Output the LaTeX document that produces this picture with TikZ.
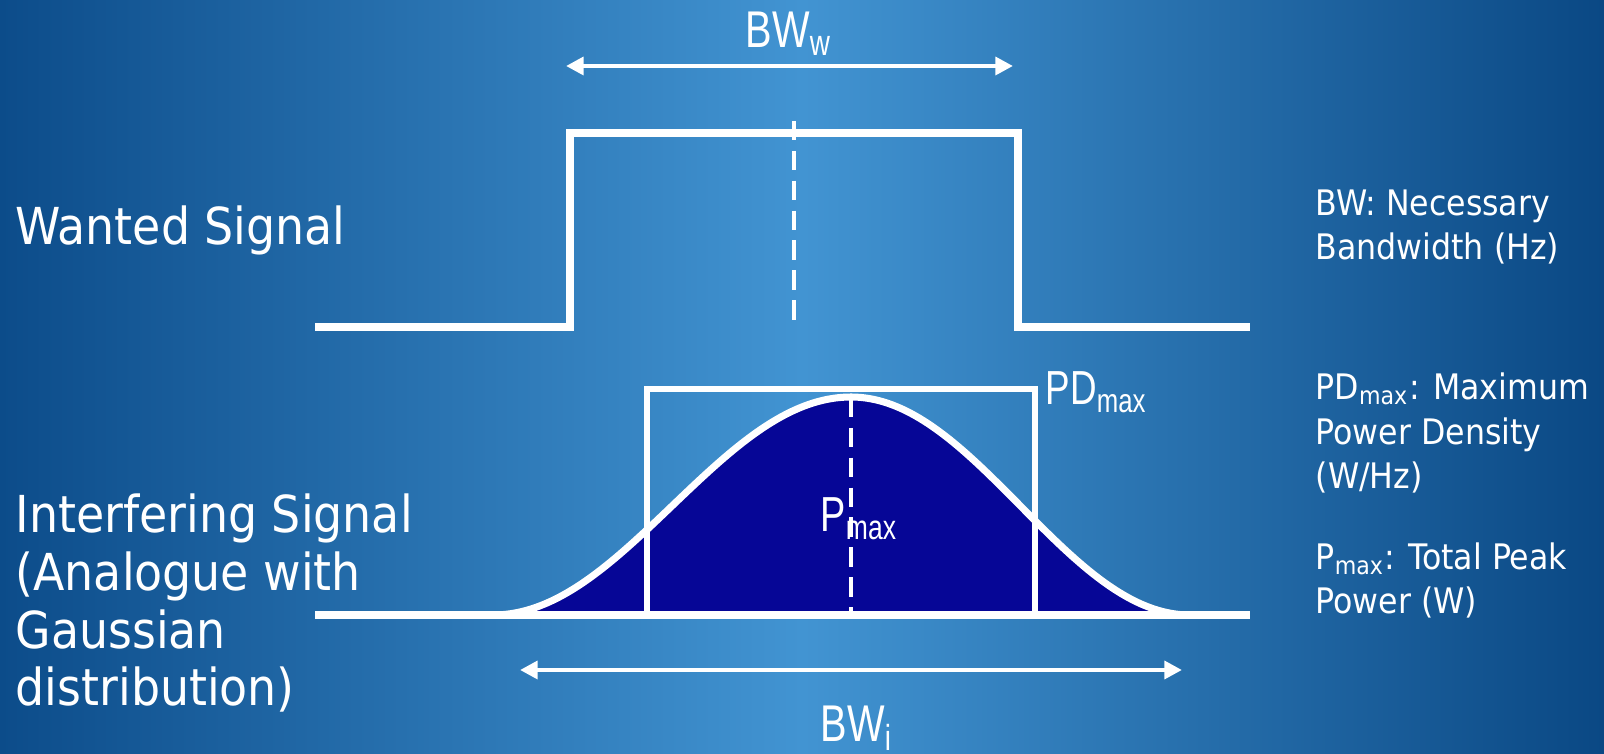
\documentclass[tikz,border=0pt]{standalone}
\usepackage{fontspec}
\setmainfont{DejaVu Sans Condensed}
\newfontfamily\narrowfont[FakeStretch=0.77]{Liberation Sans}
\usetikzlibrary{arrows.meta}
\definecolor{SlideLeft}{RGB}{12,76,138}
\definecolor{SlideMid}{RGB}{66,148,210}
\definecolor{SlideRight}{RGB}{10,72,132}
\definecolor{PeakNavy}{RGB}{6,6,150}
\tikzset{
  sig/.style={draw=white,line width=2pt,line join=miter},
  box/.style={draw=white,line width=1.5pt},
  centre/.style={draw=white,line width=1.3pt,dash pattern=on 5.5pt off 3pt},
  span/.style={draw=white,line width=1.4pt,{Triangle[length=5pt,width=5pt]}-{Triangle[length=5pt,width=5pt]}},
  bell/.style={draw=white,line width=2pt},
  lbl/.style={text=white,inner sep=0pt,anchor=base west},
  side/.style={lbl,font=\fontsize{14.5}{16.5}\selectfont,align=left},
  note/.style={lbl,font=\fontsize{10}{12.8}\selectfont,align=left},
  bw/.style={lbl,font=\narrowfont\fontsize{14.7}{16}\selectfont},
}

\begin{document}
\begin{tikzpicture}[x=1cm,y=-1cm]
\useasboundingbox (0,0) rectangle (16.04,7.54);
\shade[left color=SlideLeft,right color=SlideRight,middle color=SlideMid] (0,0) rectangle (16.04,7.54);
\coordinate (w0) at (3.15,3.27);
\coordinate (w1) at (5.70,3.27);
\coordinate (w2) at (5.70,1.33);
\coordinate (w3) at (10.18,1.33);
\coordinate (w4) at (10.18,3.27);
\coordinate (w5) at (12.50,3.27);
\coordinate (wc0) at (7.94,1.21);
\coordinate (wc1) at (7.94,3.27);
\coordinate (i0) at (3.15,6.15);
\coordinate (i1) at (12.50,6.15);
\coordinate (r0) at (6.47,6.15);
\coordinate (r1) at (6.47,3.89);
\coordinate (r2) at (10.35,3.89);
\coordinate (r3) at (10.35,6.15);
\coordinate (ic0) at (8.51,3.98);
\coordinate (ic1) at (8.51,6.15);
\coordinate (aw0) at (5.66,0.66);
\coordinate (aw1) at (10.13,0.66);
\coordinate (ai0) at (5.20,6.70);
\coordinate (ai1) at (11.82,6.70);
\fill[PeakNavy] plot[domain=4.93:8.51,samples=60,smooth] ({\x},{6.15-1.09*(1+cos(180*(\x-8.51)/3.58))})
  -- plot[domain=8.51:11.90,samples=60,smooth] ({\x},{6.15-1.09*(1+cos(180*(\x-8.51)/3.39))}) -- cycle;
\draw[sig] (w0)--(w1)--(w2)--(w3)--(w4)--(w5);
\draw[centre] (wc0)--(wc1);
\draw[sig] (i0)--(i1);
\draw[box] (r0)--(r1)--(r2)--(r3);
\draw[centre] (ic0)--(ic1);
\draw[bell] plot[domain=4.93:8.51,samples=60,smooth] ({\x},{6.15-1.09*(1+cos(180*(\x-8.51)/3.58))})
  -- plot[domain=8.51:11.90,samples=60,smooth] ({\x},{6.15-1.09*(1+cos(180*(\x-8.51)/3.39))});
\draw[span] (aw0)--(aw1);
\draw[span] (ai0)--(ai1);
\node[bw] (bww) at (7.45,0.48) {BW\textsubscript{w}};
\node[bw] (bwi) at (8.20,7.42) {BW\textsubscript{i}};
\node[bw,font=\narrowfont\fontsize{14}{16}\selectfont] (pmax) at (8.20,5.32) {P\textsubscript{max}};
\node[bw,font=\narrowfont\fontsize{13.6}{16}\selectfont] (pdmax) at (10.45,4.05) {PD\textsubscript{max}};
\node[side] (wanted) at (0.15,2.45) {Wanted Signal};
\node[side] (interf) at (0.15,7.06) {Interfering Signal\\(Analogue with\\Gaussian\\distribution)};
\node[note] (bwnote) at (13.15,2.60) {BW: Necessary\\Bandwidth (Hz)};
\node[note] (pdnote) at (13.15,4.89) {PD\textsubscript{max}: Maximum\\Power Density\\(W/Hz)};
\node[note] (pnote) at (13.15,6.14) {P\textsubscript{max}: Total Peak\\Power (W)};
\end{tikzpicture}
\end{document}
